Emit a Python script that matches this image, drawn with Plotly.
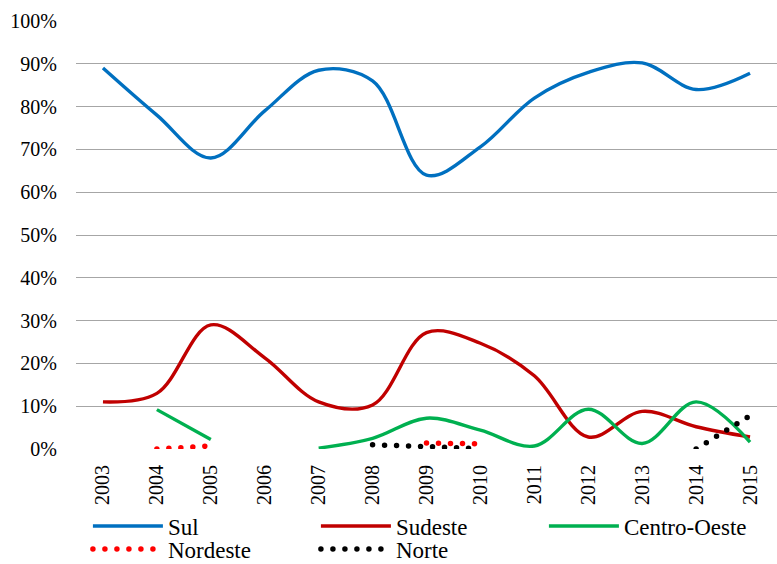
import plotly.graph_objects as go

years = [2003, 2004, 2005, 2006, 2007, 2008, 2009, 2010, 2011, 2012, 2013, 2014, 2015]
sul = [0.89, 0.78, 0.68, 0.79, 0.885, 0.86, 0.64, 0.706, 0.82, 0.88, 0.902, 0.84, 0.878]
sudeste = [0.11, 0.13, 0.29, 0.213, 0.11, 0.103, 0.272, 0.247, 0.171, 0.028, 0.088, 0.052, 0.028]
centro_oeste = [None, 0.092, 0.022, None, 0.002, 0.025, 0.072, 0.044, 0.007, 0.093, 0.013, 0.11, 0.016]
nordeste = [None, 0.0, 0.007, None, None, None, 0.014, 0.012, None, None, None, None, None]
norte = [None, None, None, None, None, 0.01, 0.005, 0.001, None, None, None, 0.0, 0.078]

y_ticks = [i / 10 for i in range(11)]
y_labels = [f"{i * 10}%" for i in range(11)]

FONT = "Liberation Serif"

W, H = 777, 564

fig = go.Figure()
fig.add_trace(go.Scatter(x=years, y=sul, name="Sul", mode="lines", legend="legend",
                         line=dict(color="#0070C0", width=3.4, shape="spline", smoothing=1)))
fig.add_trace(go.Scatter(x=years, y=sudeste, name="Sudeste", mode="lines", legend="legend",
                         line=dict(color="#C00000", width=3.4, shape="spline", smoothing=1)))
fig.add_trace(go.Scatter(x=years, y=centro_oeste, name="Centro-Oeste", mode="lines", legend="legend",
                         line=dict(color="#00B050", width=3.4, shape="spline", smoothing=1)))
fig.add_trace(go.Scatter(x=years, y=nordeste, name="Nordeste", mode="lines", legend="legend2",
                         line=dict(color="#FF0000", width=5.5, dash="0px,12px")))
fig.add_trace(go.Scatter(x=years, y=norte, name="Norte", mode="lines", legend="legend2",
                         line=dict(color="#000000", width=5.5, dash="0px,12px")))

legend_common = dict(orientation="h", xanchor="left", yanchor="middle",
                     xref="paper", yref="container",
                     entrywidth=143, entrywidthmode="pixels", itemwidth=70,
                     font=dict(family=FONT, size=23, color="black"),
                     bgcolor="rgba(0,0,0,0)", borderwidth=0)

fig.update_layout(
    width=W, height=H,
    margin=dict(l=76, r=0, t=21, b=115, autoexpand=False),
    paper_bgcolor="white", plot_bgcolor="white",
    font=dict(family=FONT, size=20, color="black"),
    showlegend=True,
    legend=dict(legend_common, x=0.017, y=1 - 526 / H),
    legend2=dict(legend_common, x=0.017, y=1 - 549 / H),
)
fig.update_xaxes(range=[2002.5, 2015.5], tickvals=years, ticktext=[str(y) for y in years],
                 tickangle=-90, showgrid=False, showline=False, zeroline=False,
                 ticks="", ticklabelstandoff=11, automargin=False,
                 tickfont=dict(family=FONT, size=20, color="black"))
fig.update_yaxes(range=[0, 1.0], tickvals=y_ticks, ticktext=y_labels,
                 showgrid=True, gridcolor="#A6A6A6", gridwidth=1.3,
                 zeroline=False, showline=False, ticks="", ticklabelstandoff=18,
                 automargin=False,
                 tickfont=dict(family=FONT, size=20, color="black"))

post = """
document.documentElement.style.margin = '0';
document.documentElement.style.padding = '0';
document.documentElement.style.overflow = 'hidden';
document.body.style.margin = '0';
document.body.style.padding = '0';
var gd = document.getElementById('{plot_id}');
function roundDots() {
  gd.querySelectorAll('path').forEach(function (p) {
    var d = p.style.strokeDasharray || '';
    if (d.indexOf('0px') === 0) { p.style.strokeLinecap = 'round'; }
  });
}
roundDots();
gd.on('plotly_afterplot', roundDots);
"""

fig.write_html("out.html", post_script=post, config={"displayModeBar": False})
